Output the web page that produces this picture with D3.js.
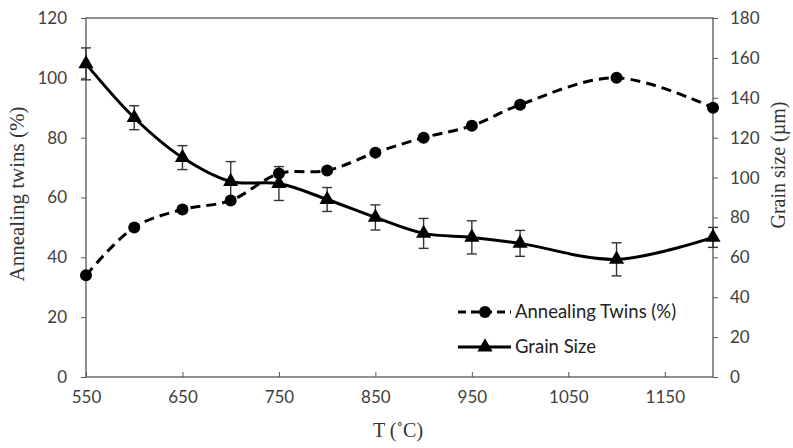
<!DOCTYPE html>
<html>
<head>
<meta charset="utf-8">
<script src="https://cdn.jsdelivr.net/npm/d3@7"></script>
<style>
  body { margin: 0; background: #fff; }
  svg { display: block; }
  .tick text { font-family: Lato, "Open Sans", sans-serif; font-size: 17px; fill: #404040; }
  .axis path, .axis line { stroke: #555; }
</style>
</head>
<body>
<div id="chart"></div>
<script>
(() => {
    // data
    let temps = [550, 600, 650, 700, 750, 800, 850, 900, 950, 1000, 1100, 1200];
    let twins = [34, 50, 56, 59, 68, 69, 75, 80, 84, 91, 100, 90];
    let grain = [157, 130, 110, 98, 97, 89, 80, 72, 70, 67, 59, 70];
    let grainErr = [8, 6, 6, 10, 8.5, 6, 6.3, 7.5, 8.3, 6.5, 8.3, 5];
    let xTicks = [550, 650, 750, 850, 950, 1050, 1150];
    let leftTicks = [0, 20, 40, 60, 80, 100, 120];
    let rightTicks = [0, 20, 40, 60, 80, 100, 120, 140, 160, 180];
    let seriesNames = ["Annealing Twins (%)", "Grain Size"];

    let w = 793;
    let h = 448;
    let m = {top: 18, right: 80, bottom: 71, left: 86};

    let svg = d3.select("#chart")
        .append("svg")
        .attr("width", w)
        .attr("height", h);

    let x = d3.scaleLinear().domain([550, 1200]).range([m.left, w - m.right]);
    let yL = d3.scaleLinear().domain([0, 120]).range([h - m.bottom, m.top]);
    let yR = d3.scaleLinear().domain([0, 180]).range([h - m.bottom, m.top]);

    // frame
    svg.append("rect")
        .attr("x", m.left)
        .attr("y", m.top)
        .attr("width", w - m.left - m.right)
        .attr("height", h - m.top - m.bottom)
        .attr("fill", "none")
        .attr("stroke", "#555")
        .attr("stroke-width", 1.3);

    svg.append("g")
        .attr("class", "axis")
        .attr("transform", "translate(0," + (h - m.bottom) + ")")
        .call(d3.axisBottom(x).tickValues(xTicks).tickSize(-5).tickPadding(14).tickFormat(d3.format("d")))
        .call(g => g.select(".domain").remove());

    svg.append("g")
        .attr("class", "axis")
        .attr("transform", "translate(" + m.left + ",0)")
        .call(d3.axisLeft(yL).tickValues(leftTicks).tickSize(5).tickPadding(14))
        .call(g => g.select(".domain").remove());

    svg.append("g")
        .attr("class", "axis")
        .attr("transform", "translate(" + (w - m.right) + ",0)")
        .call(d3.axisRight(yR).tickValues(rightTicks).tickSize(5).tickPadding(12))
        .call(g => g.select(".domain").remove());

    // axis titles
    svg.append("text")
        .attr("transform", "translate(24," + 194 + ") rotate(-90)")
        .attr("text-anchor", "middle")
        .style("font-family", "'Liberation Serif', serif")
        .style("font-size", "21px")
        .attr("fill", "#333")
        .text("Annealing  twins (%)");

    svg.append("text")
        .attr("transform", "translate(785," + 165 + ") rotate(-90)")
        .attr("text-anchor", "middle")
        .style("font-family", "'Liberation Serif', serif")
        .style("font-size", "20px")
        .attr("fill", "#333")
        .text("Grain size (\u00b5m)");

    svg.append("text")
        .attr("x", 398)
        .attr("y", 437)
        .attr("text-anchor", "middle")
        .style("font-family", "'Liberation Serif', serif")
        .style("font-size", "20px")
        .attr("fill", "#333")
        .text("T (\u02daC)");

    let smooth = d3.curveCatmullRom.alpha(0.5);

    // error bars
    let errG = svg.append("g");
    temps.forEach((t, i) => {
        let top = yR(grain[i] + grainErr[i]);
        let bot = yR(grain[i] - grainErr[i]);
        errG.append("line").attr("x1", x(t)).attr("x2", x(t)).attr("y1", top).attr("y2", bot);
        errG.append("line").attr("x1", x(t) - 5).attr("x2", x(t) + 5).attr("y1", top).attr("y2", top);
        errG.append("line").attr("x1", x(t) - 5).attr("x2", x(t) + 5).attr("y1", bot).attr("y2", bot);
    });
    errG.selectAll("line").attr("stroke", "#333").attr("stroke-width", 1.4);

    // grain size line
    svg.append("path")
        .datum(temps.map((t, i) => [t, grain[i]]))
        .attr("fill", "none")
        .attr("stroke", "#000")
        .attr("stroke-width", 3)
        .attr("d", d3.line().x(d => x(d[0])).y(d => yR(d[1])).curve(smooth));

    let tri = d3.symbol().type(d3.symbolTriangle).size(100);
    svg.selectAll(".tri")
        .data(temps.map((t, i) => [t, grain[i]]))
        .enter()
        .append("path")
        .attr("class", "tri")
        .attr("transform", d => "translate(" + x(d[0]) + "," + yR(d[1]) + ")")
        .attr("d", tri)
        .attr("fill", "#000");

    // twins line
    svg.append("path")
        .datum(temps.map((t, i) => [t, twins[i]]))
        .attr("fill", "none")
        .attr("stroke", "#000")
        .attr("stroke-width", 3)
        .attr("stroke-dasharray", "10,6")
        .attr("d", d3.line().x(d => x(d[0])).y(d => yL(d[1])).curve(smooth));

    svg.selectAll(".dot")
        .data(temps.map((t, i) => [t, twins[i]]))
        .enter()
        .append("circle")
        .attr("class", "dot")
        .attr("cx", d => x(d[0]))
        .attr("cy", d => yL(d[1]))
        .attr("r", 6)
        .attr("fill", "#000");

    // legend
    let lg = svg.append("g");
    let rows = [312, 347];
    rows.forEach((ry, i) => {
        lg.append("line")
            .attr("x1", 458).attr("x2", 511)
            .attr("y1", ry).attr("y2", ry)
            .attr("stroke", "#000")
            .attr("stroke-width", 3)
            .attr("stroke-dasharray", i === 0 ? "8,5" : null);
        if (i === 0) {
            lg.append("circle").attr("cx", 485).attr("cy", ry).attr("r", 6).attr("fill", "#000");
        } else {
            lg.append("path").attr("transform", "translate(485," + ry + ")").attr("d", tri).attr("fill", "#000");
        }
        lg.append("text")
            .attr("x", 515)
            .attr("y", ry)
            .attr("dy", "0.35em")
            .style("font-family", "Lato, 'Open Sans', sans-serif")
            .style("font-size", "18.5px")
            .attr("fill", "#222")
            .text(seriesNames[i]);
    });
})();
</script>
</body>
</html>
